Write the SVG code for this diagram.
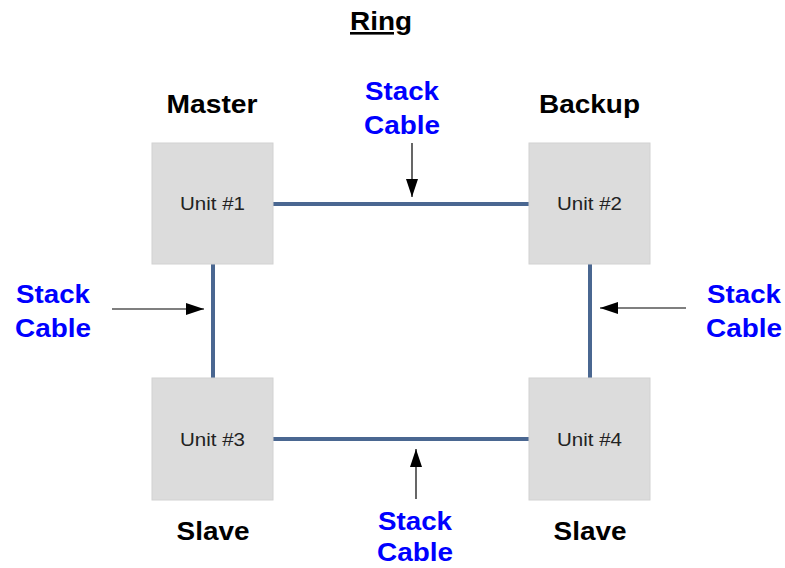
<svg xmlns="http://www.w3.org/2000/svg" width="785" height="568" viewBox="0 0 785 568">
<defs>
<marker id="ah" viewBox="0 0 18 12" refX="18" refY="6" markerWidth="18" markerHeight="12" markerUnits="userSpaceOnUse" orient="auto">
<path d="M0,0 L18,6 L0,12 z" fill="#000"/>
</marker>
<style>
.box{fill:#dcdcdc;stroke:#d2d2d2;stroke-width:1}
.unit{font-family:"Liberation Sans",Arial,sans-serif;font-size:19px;fill:#222;text-anchor:middle}
.role{font-family:"Liberation Sans",Arial,sans-serif;font-size:26px;font-weight:bold;fill:#000;text-anchor:middle}
.lbl{font-family:"Liberation Sans",Arial,sans-serif;font-size:26px;font-weight:bold;fill:#0000ff;text-anchor:middle}
.cable{stroke:#4a6791;stroke-width:4;fill:none}
.arr{stroke:#000;stroke-width:1.2;fill:none;marker-end:url(#ah)}
</style>
</defs>
<rect width="785" height="568" fill="#fff"/>
<text x="381" y="30" class="role" text-decoration="underline" textLength="62" lengthAdjust="spacingAndGlyphs">Ring</text>
<g id="connectors">
<line class="cable" x1="273" y1="204" x2="529" y2="204"/>
<line class="cable" x1="273" y1="439" x2="529" y2="439"/>
<line class="cable" x1="213" y1="264" x2="213" y2="378"/>
<line class="cable" x1="590" y1="264" x2="590" y2="378"/>
<line class="arr" x1="412" y1="143" x2="412" y2="197"/>
<line class="arr" x1="416" y1="499" x2="416" y2="449"/>
<line class="arr" x1="112" y1="309" x2="204" y2="309"/>
<line class="arr" x1="686" y1="308" x2="600" y2="308"/>
</g>
<g id="unit1">
<rect class="box" x="152" y="143" width="121" height="121"/>
<text class="unit" x="212.5" y="210" textLength="65" lengthAdjust="spacingAndGlyphs">Unit #1</text>
</g>
<g id="unit2">
<rect class="box" x="529" y="143" width="121" height="121"/>
<text class="unit" x="589.5" y="210" textLength="65" lengthAdjust="spacingAndGlyphs">Unit #2</text>
</g>
<g id="unit3">
<rect class="box" x="152" y="378" width="121" height="122"/>
<text class="unit" x="212.5" y="446" textLength="65" lengthAdjust="spacingAndGlyphs">Unit #3</text>
</g>
<g id="unit4">
<rect class="box" x="529" y="378" width="121" height="122"/>
<text class="unit" x="589.5" y="446" textLength="65" lengthAdjust="spacingAndGlyphs">Unit #4</text>
</g>
<text class="role" x="212" y="113" textLength="91" lengthAdjust="spacingAndGlyphs">Master</text>
<text class="role" x="589.5" y="113" textLength="101" lengthAdjust="spacingAndGlyphs">Backup</text>
<text class="role" x="213" y="540" textLength="73" lengthAdjust="spacingAndGlyphs">Slave</text>
<text class="role" x="590" y="540" textLength="73" lengthAdjust="spacingAndGlyphs">Slave</text>
<text class="lbl" x="402" y="100" textLength="74" lengthAdjust="spacingAndGlyphs">Stack</text>
<text class="lbl" x="402" y="134" textLength="76" lengthAdjust="spacingAndGlyphs">Cable</text>
<text class="lbl" x="53" y="303" textLength="74" lengthAdjust="spacingAndGlyphs">Stack</text>
<text class="lbl" x="53" y="337" textLength="76" lengthAdjust="spacingAndGlyphs">Cable</text>
<text class="lbl" x="744" y="303" textLength="74" lengthAdjust="spacingAndGlyphs">Stack</text>
<text class="lbl" x="744" y="337" textLength="76" lengthAdjust="spacingAndGlyphs">Cable</text>
<text class="lbl" x="415" y="530" textLength="74" lengthAdjust="spacingAndGlyphs">Stack</text>
<text class="lbl" x="415" y="561" textLength="76" lengthAdjust="spacingAndGlyphs">Cable</text>
</svg>
